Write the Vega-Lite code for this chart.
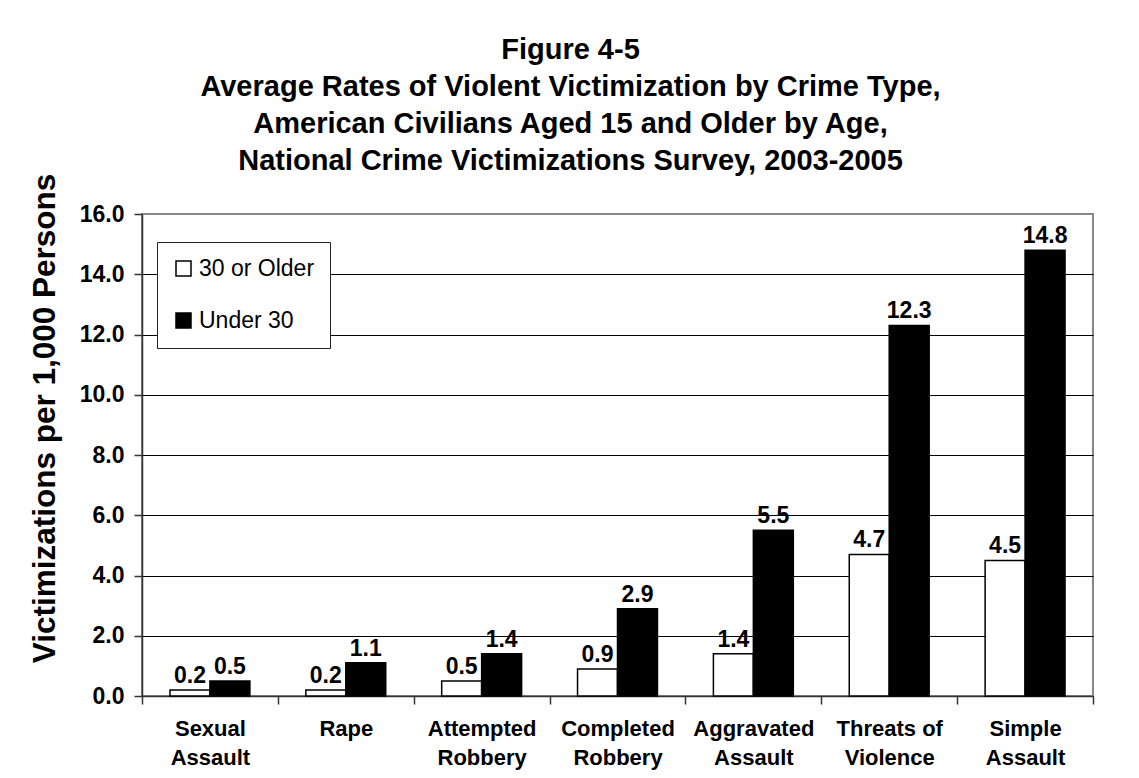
{
  "$schema": "https://vega.github.io/schema/vega-lite/v6.json",
  "width": 951,
  "height": 482,
  "autosize": {"type": "none"},
  "padding": {"left": 142, "top": 214, "right": 46, "bottom": 82},
  "background": "white",
  "title": {
    "text": [
      "Figure 4-5",
      "Average Rates of Violent Victimization by Crime Type,",
      "American Civilians Aged 15 and Older by Age,",
      "National Crime Victimizations Survey, 2003-2005"
    ],
    "font": "Liberation Sans",
    "fontSize": 29,
    "fontWeight": "bold",
    "lineHeight": 37,
    "anchor": "middle",
    "dx": -47,
    "offset": -3,
    "color": "black"
  },
  "data": {
    "values": [
      {"crime": "Sexual Assault", "age": "30 or Older", "rate": 0.2},
      {"crime": "Sexual Assault", "age": "Under 30", "rate": 0.5},
      {"crime": "Rape", "age": "30 or Older", "rate": 0.2},
      {"crime": "Rape", "age": "Under 30", "rate": 1.1},
      {"crime": "Attempted Robbery", "age": "30 or Older", "rate": 0.5},
      {"crime": "Attempted Robbery", "age": "Under 30", "rate": 1.4},
      {"crime": "Completed Robbery", "age": "30 or Older", "rate": 0.9},
      {"crime": "Completed Robbery", "age": "Under 30", "rate": 2.9},
      {"crime": "Aggravated Assault", "age": "30 or Older", "rate": 1.4},
      {"crime": "Aggravated Assault", "age": "Under 30", "rate": 5.5},
      {"crime": "Threats of Violence", "age": "30 or Older", "rate": 4.7},
      {"crime": "Threats of Violence", "age": "Under 30", "rate": 12.3},
      {"crime": "Simple Assault", "age": "30 or Older", "rate": 4.5},
      {"crime": "Simple Assault", "age": "Under 30", "rate": 14.8}
    ]
  },
  "encoding": {
    "x": {
      "field": "crime",
      "type": "nominal",
      "sort": ["Sexual Assault", "Rape", "Attempted Robbery", "Completed Robbery", "Aggravated Assault", "Threats of Violence", "Simple Assault"],
      "scale": {"paddingInner": 0, "paddingOuter": 0},
      "axis": {
        "title": null,
        "labelAngle": 0,
        "tickBand": "extent",
        "tickSize": 8,
        "tickColor": "#333333",
        "tickWidth": 1.5,
        "domainColor": "#333333",
        "domainWidth": 1.5,
        "grid": false,
        "labelFont": "Liberation Sans",
        "labelFontSize": 22,
        "labelFontWeight": "bold",
        "labelColor": "black",
        "labelLineHeight": 29,
        "labelPadding": 14,
        "labelExpr": "datum.label === 'Threats of Violence' ? ['Threats of', 'Violence'] : split(datum.label, ' ')"
      }
    },
    "xOffset": {
      "field": "age",
      "type": "nominal",
      "sort": ["30 or Older", "Under 30"],
      "scale": {"paddingInner": 0, "paddingOuter": 0.7}
    },
    "y": {
      "field": "rate",
      "type": "quantitative",
      "scale": {"domain": [0, 16], "nice": false},
      "axis": {
        "title": "Victimizations per 1,000 Persons",
        "values": [0, 2, 4, 6, 8, 10, 12, 14, 16],
        "format": ".1f",
        "grid": true,
        "gridColor": {"condition": {"test": "datum.value === 16", "value": "#888888"}, "value": "black"},
        "gridWidth": 1,
        "tickSize": 8,
        "tickColor": "#333333",
        "tickWidth": 1.5,
        "domainColor": "#333333",
        "domainWidth": 1.5,
        "labelFont": "Liberation Sans",
        "labelFontSize": 23,
        "labelFontWeight": "bold",
        "labelColor": "black",
        "labelPadding": 10,
        "titleFont": "Liberation Sans",
        "titleFontSize": 31.5,
        "titleFontWeight": "bold",
        "titleColor": "black",
        "titleX": -81,
        "titleY": 204
      }
    }
  },
  "layer": [
    {
      "mark": {"type": "bar", "stroke": "black", "strokeWidth": 1.5},
      "encoding": {
        "fill": {
          "field": "age",
          "type": "nominal",
          "scale": {"domain": ["30 or Older", "Under 30"], "range": ["white", "black"]},
          "legend": {
            "title": null,
            "orient": "none",
            "legendX": 15,
            "legendY": 28,
            "fillColor": "white",
            "strokeColor": "#222222",
            "padding": 15,
            "rowPadding": 28,
            "labelFont": "Liberation Sans",
            "labelFontSize": 23,
            "labelColor": "black",
            "labelOffset": 4,
            "symbolType": "square",
            "symbolSize": 225,
            "symbolStrokeColor": "black",
            "symbolStrokeWidth": 1.5
          }
        }
      }
    },
    {
      "mark": {
        "type": "text",
        "baseline": "alphabetic",
        "dy": -7,
        "font": "Liberation Sans",
        "fontSize": 23,
        "fontWeight": "bold",
        "color": "black"
      },
      "encoding": {
        "text": {"field": "rate", "type": "quantitative", "format": ".1f"}
      }
    }
  ],
  "config": {
    "view": {"stroke": "#888888", "strokeWidth": 2}
  }
}
